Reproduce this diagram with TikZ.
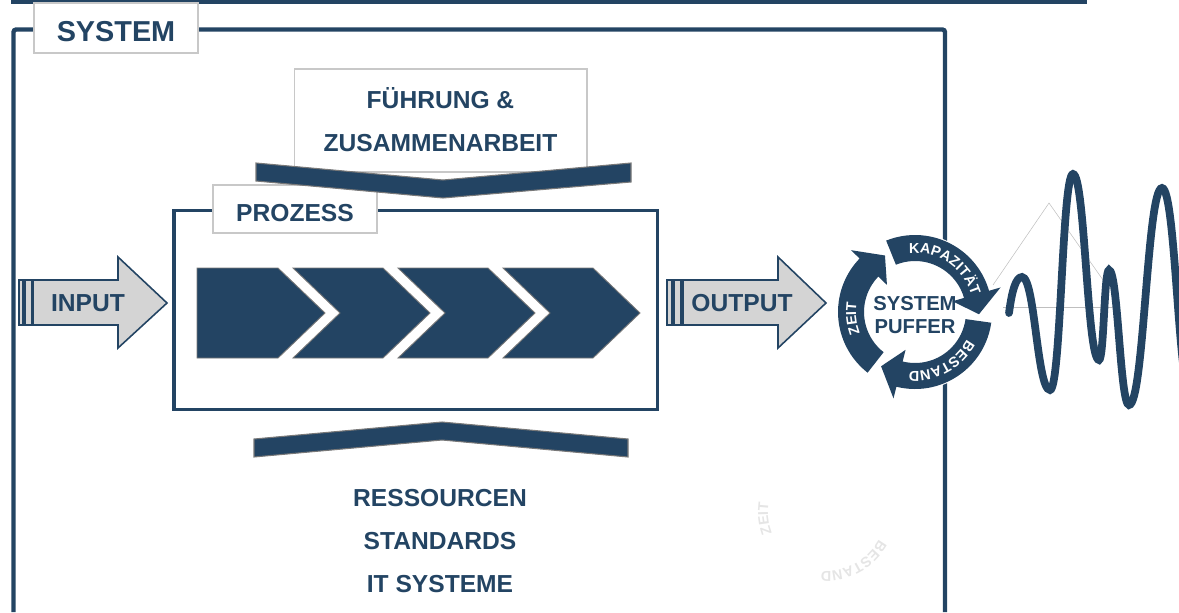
\documentclass[tikz,border=0pt]{standalone}
\usepackage{fontspec}
\setmainfont{Liberation Sans}
\usetikzlibrary{decorations.text}
\definecolor{sysblue}{RGB}{35, 68, 99}
\definecolor{arrowgray}{RGB}{212, 212, 212}
\definecolor{boxgray}{RGB}{200, 200, 200}
\definecolor{edgegray}{RGB}{120, 120, 120}
\newcommand{\ringfont}{\fontsize{8.2}{9}\selectfont\bfseries}
\tikzset{
    % Frames
    system frame/.style={
        draw=sysblue, line width=2.5pt, rounded corners=1.5pt
    },
    process frame/.style={
        draw=sysblue, line width=2.2pt
    },
    % White label boxes
    label box/.style={
        rectangle, draw=boxgray, fill=white, line width=0.6pt, inner sep=0pt
    },
    label text/.style={
        text=sysblue, align=center, inner sep=0pt,
        font=\fontsize{14}{24.6}\selectfont\bfseries
    },
    % Bands and process steps
    band/.style={
        fill=sysblue, draw=edgegray, line width=0.6pt
    },
    phase chevron/.style={
        fill=sysblue, draw=edgegray, line width=0.5pt
    },
    % Input / output arrows
    io arrow/.style={
        fill=arrowgray, draw=sysblue, line width=0.9pt
    },
    % Buffer ring
    ring label/.style={
        decorate, decoration={text along path, text color=white, text align=center}
    },
    puffer text/.style={
        text=sysblue, align=center, inner sep=0pt,
        font=\fontsize{11.5}{13.6}\selectfont\bfseries
    },
    % Signal
    wave/.style={
        draw=sysblue, line width=4.4pt, line cap=round
    },
    guide line/.style={
        draw=black!25, line width=0.3pt
    }
}

\begin{document}
\begin{tikzpicture}[x=0.02cm, y=-0.02cm]
    \useasboundingbox (0,0) rectangle (1179,612);

    % Top rule
    \fill[sysblue] (11,0) rectangle (1087,3.5);

    % System frame (open at the bottom)
    \draw[system frame] (13.5,612) -- (13.5,29.5) -- (945,29.5) -- (945,612);
    \node[label box, minimum width=3.28cm, minimum height=1cm] (sysbox) at (116,28) {};
    \node[label text, font=\fontsize{16.4}{18}\selectfont\bfseries] (systitle) at (116,32) {SYSTEM};

    % Leadership
    \node[label box, minimum width=5.86cm, minimum height=2.06cm] (leadbox) at (440.5,120.5) {};
    \node[label text] (leadtext) at (440.5,120) {FÜHRUNG \&\\ZUSAMMENARBEIT};

    % Process frame
    \draw[process frame] (174,210.5) rectangle (657.5,409.5);
    \node[label box, minimum width=3.28cm, minimum height=0.96cm] (procbox) at (295,209) {};
    \node[label text] (proctext) at (295,213.5) {PROZESS};

    % Bands above and below the process
    \draw[band] (256,163) -- (443,180) -- (631,163) -- (631,182) -- (443,198) -- (256,181) -- cycle;
    \draw[band] (254,439) -- (442,422) -- (628,439) -- (628,457) -- (442,440) -- (254,457) -- cycle;

    % Process steps
    \draw[phase chevron] (197,268) -- (278,268) -- (325,313) -- (278,358) -- (197,358) -- cycle;
    \foreach \l in {293,398,503}
        \draw[phase chevron] (\l,268) -- (\l+90,268) -- (\l+137,313) -- (\l+90,358) -- (\l,358) -- (\l+47,313) -- cycle;

    % Resources
    \node[label text] (restext) at (440,541) {RESSOURCEN\\STANDARDS\\IT SYSTEME};

    % Input arrow
    \draw[io arrow] (19,280) rectangle (23,325);
    \draw[io arrow] (25,280) rectangle (32,325);
    \draw[io arrow] (33,280) -- (118,280) -- (118,257) -- (167,303) -- (118,348) -- (118,325) -- (33,325) -- cycle;
    \node[label text] (intext) at (88,303) {INPUT};

    % Output arrow
    \draw[io arrow] (667,280) rectangle (672,325);
    \draw[io arrow] (674,280) rectangle (681,325);
    \draw[io arrow] (683,280) -- (778,280) -- (778,257) -- (826,303) -- (778,348) -- (778,325) -- (683,325) -- cycle;
    \node[label text] (outtext) at (742,303) {OUTPUT};

    % System buffer ring
    \begin{scope}[shift={(915,312)}, yscale=-1]
        \fill[white] (0,0) circle (78);
        \foreach \s in {112,-8,232}
            \fill[sysblue] (\s:77) arc[start angle=\s, end angle=\s-96, radius=77]
                -- (\s-96:89) -- (\s-114:64) -- (\s-96:39) -- (\s-96:51)
                arc[start angle=\s-96, end angle=\s, radius=51] -- cycle;
        \path[ring label, decoration={text={|\ringfont|KAPAZITÄT}}] (106:59) arc[start angle=106, end angle=6, radius=59];
        \path[ring label, decoration={text={|\ringfont|BESTAND}}] (-12:59) arc[start angle=-12, end angle=-112, radius=59];
        \path[ring label, decoration={text={|\ringfont|ZEIT}}] (236:59) arc[start angle=236, end angle=136, radius=59];
        \node[puffer text] (puffer) at (0,-3) {SYSTEM\\PUFFER};
    \end{scope}

    % Faint copy of the ring labels
    \begin{scope}[shift={(827,512)}, yscale=-1]
        \path[ring label, decoration={text color=black!10, text={|\ringfont|BESTAND}}] (-12:59) arc[start angle=-12, end angle=-112, radius=59];
        \path[ring label, decoration={text color=black!10, text={|\ringfont|ZEIT}}] (236:59) arc[start angle=236, end angle=136, radius=59];
    \end{scope}

    % Signal
    \draw[guide line] (993,285) -- (1049,203) -- (1103,280);
    \draw[guide line] (1003,307) -- (1119,307);
    \draw[wave] (1009,313) .. controls (1012,290) and (1016,277) .. (1022,277)
        .. controls +(13,0) and +(-13,0) .. (1050,390)
        .. controls +(11,0) and +(-11,0) .. (1073,174)
        .. controls +(12,0) and +(-12,0) .. (1099,360)
        .. controls +(5,0) and +(-5,0) .. (1109,270)
        .. controls +(9,0) and +(-9,0) .. (1129,405)
        .. controls +(15,0) and +(-15,0) .. (1162,188)
        .. controls +(14,0) and +(-14,0) .. (1192,400);

\end{tikzpicture}
\end{document}
